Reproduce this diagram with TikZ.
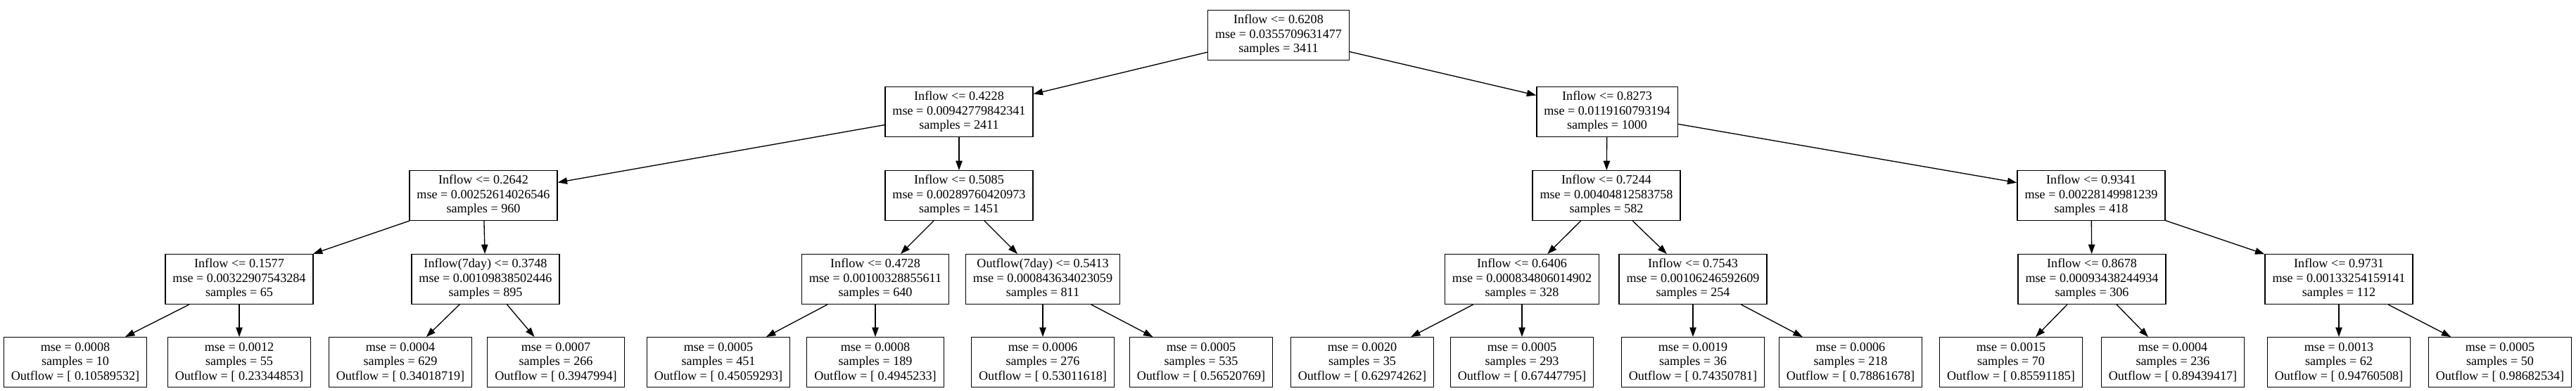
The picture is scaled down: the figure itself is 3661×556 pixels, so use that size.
\documentclass[tikz,border=0pt]{standalone}
\usepackage{fontspec}
\setmainfont{Liberation Serif}
\usetikzlibrary{arrows.meta}
\begin{document}
\begin{tikzpicture}[
        x=0.75pt, y=-0.75pt, % one unit is one pixel, y runs down
        every node/.style={draw, line width=1pt, inner xsep=7.9pt, inner ysep=0pt, minimum height=53pt, align=center, font=\fontsize{13.6}{15.4}\selectfont}, % Box styling
        arr/.style={line width=1pt, -{Triangle[length=10pt, width=7pt]}} % Arrow styling
        ]
        \useasboundingbox (0,0) rectangle (3661,556);

        % Define split nodes
        \node (In6208) at (1817,50) {Inflow <= 0.6208\\mse = 0.0355709631477\\samples = 3411};
        \node (In4228) at (1363,159) {Inflow <= 0.4228\\mse = 0.00942779842341\\samples = 2411};
        \node (In8273) at (2284,159) {Inflow <= 0.8273\\mse = 0.0119160793194\\samples = 1000};
        \node (In2642) at (687,278) {Inflow <= 0.2642\\mse = 0.00252614026546\\samples = 960};
        \node (In5085) at (1363,278) {Inflow <= 0.5085\\mse = 0.00289760420973\\samples = 1451};
        \node (In7244) at (2283,278) {Inflow <= 0.7244\\mse = 0.00404812583758\\samples = 582};
        \node (In9341) at (2972,278) {Inflow <= 0.9341\\mse = 0.00228149981239\\samples = 418};
        \node (In1577) at (340,397) {Inflow <= 0.1577\\mse = 0.00322907543284\\samples = 65};
        \node (In7d3748) at (690,397) {Inflow(7day) <= 0.3748\\mse = 0.00109838502446\\samples = 895};
        \node (In4728) at (1244,397) {Inflow <= 0.4728\\mse = 0.00100328855611\\samples = 640};
        \node (Out7d5413) at (1482,397) {Outflow(7day) <= 0.5413\\mse = 0.000843634023059\\samples = 811};
        \node (In6406) at (2163,397) {Inflow <= 0.6406\\mse = 0.000834806014902\\samples = 328};
        \node (In7543) at (2406,397) {Inflow <= 0.7543\\mse = 0.00106246592609\\samples = 254};
        \node (In8678) at (2973,397) {Inflow <= 0.8678\\mse = 0.00093438244934\\samples = 306};
        \node (In9731) at (3324,397) {Inflow <= 0.9731\\mse = 0.00133254159141\\samples = 112};

        % Define leaves
        \node (Leaf1) at (107,515) {mse = 0.0008\\samples = 10\\Outflow = [ 0.10589532]};
        \node (Leaf2) at (340,515) {mse = 0.0012\\samples = 55\\Outflow = [ 0.23344853]};
        \node (Leaf3) at (569,515) {mse = 0.0004\\samples = 629\\Outflow = [ 0.34018719]};
        \node (Leaf4) at (790,515) {mse = 0.0007\\samples = 266\\Outflow = [ 0.3947994]};
        \node (Leaf5) at (1021,515) {mse = 0.0005\\samples = 451\\Outflow = [ 0.45059293]};
        \node (Leaf6) at (1244,515) {mse = 0.0008\\samples = 189\\Outflow = [ 0.4945233]};
        \node (Leaf7) at (1482,515) {mse = 0.0006\\samples = 276\\Outflow = [ 0.53011618]};
        \node (Leaf8) at (1707,515) {mse = 0.0005\\samples = 535\\Outflow = [ 0.56520769]};
        \node (Leaf9) at (1936,515) {mse = 0.0020\\samples = 35\\Outflow = [ 0.62974262]};
        \node (Leaf10) at (2163,515) {mse = 0.0005\\samples = 293\\Outflow = [ 0.67447795]};
        \node (Leaf11) at (2406,515) {mse = 0.0019\\samples = 36\\Outflow = [ 0.74350781]};
        \node (Leaf12) at (2630,515) {mse = 0.0006\\samples = 218\\Outflow = [ 0.78861678]};
        \node (Leaf13) at (2858,515) {mse = 0.0015\\samples = 70\\Outflow = [ 0.85591185]};
        \node (Leaf14) at (3088,515) {mse = 0.0004\\samples = 236\\Outflow = [ 0.89439417]};
        \node (Leaf15) at (3324,515) {mse = 0.0013\\samples = 62\\Outflow = [ 0.94760508]};
        \node (Leaf16) at (3553,515) {mse = 0.0005\\samples = 50\\Outflow = [ 0.98682534]};

        % Draw arrows
        \draw[arr] (In6208) -- (In4228);
        \draw[arr] (In6208) -- (In8273);
        \draw[arr] (In4228) -- (In2642);
        \draw[arr] (In4228) -- (In5085);
        \draw[arr] (In8273) -- (In7244);
        \draw[arr] (In8273) -- (In9341);
        \draw[arr] (In2642) -- (In1577);
        \draw[arr] (In2642) -- (In7d3748);
        \draw[arr] (In5085) -- (In4728);
        \draw[arr] (In5085) -- (Out7d5413);
        \draw[arr] (In7244) -- (In6406);
        \draw[arr] (In7244) -- (In7543);
        \draw[arr] (In9341) -- (In8678);
        \draw[arr] (In9341) -- (In9731);
        \draw[arr] (In1577) -- (Leaf1);
        \draw[arr] (In1577) -- (Leaf2);
        \draw[arr] (In7d3748) -- (Leaf3);
        \draw[arr] (In7d3748) -- (Leaf4);
        \draw[arr] (In4728) -- (Leaf5);
        \draw[arr] (In4728) -- (Leaf6);
        \draw[arr] (Out7d5413) -- (Leaf7);
        \draw[arr] (Out7d5413) -- (Leaf8);
        \draw[arr] (In6406) -- (Leaf9);
        \draw[arr] (In6406) -- (Leaf10);
        \draw[arr] (In7543) -- (Leaf11);
        \draw[arr] (In7543) -- (Leaf12);
        \draw[arr] (In8678) -- (Leaf13);
        \draw[arr] (In8678) -- (Leaf14);
        \draw[arr] (In9731) -- (Leaf15);
        \draw[arr] (In9731) -- (Leaf16);

    \end{tikzpicture}
\end{document}
